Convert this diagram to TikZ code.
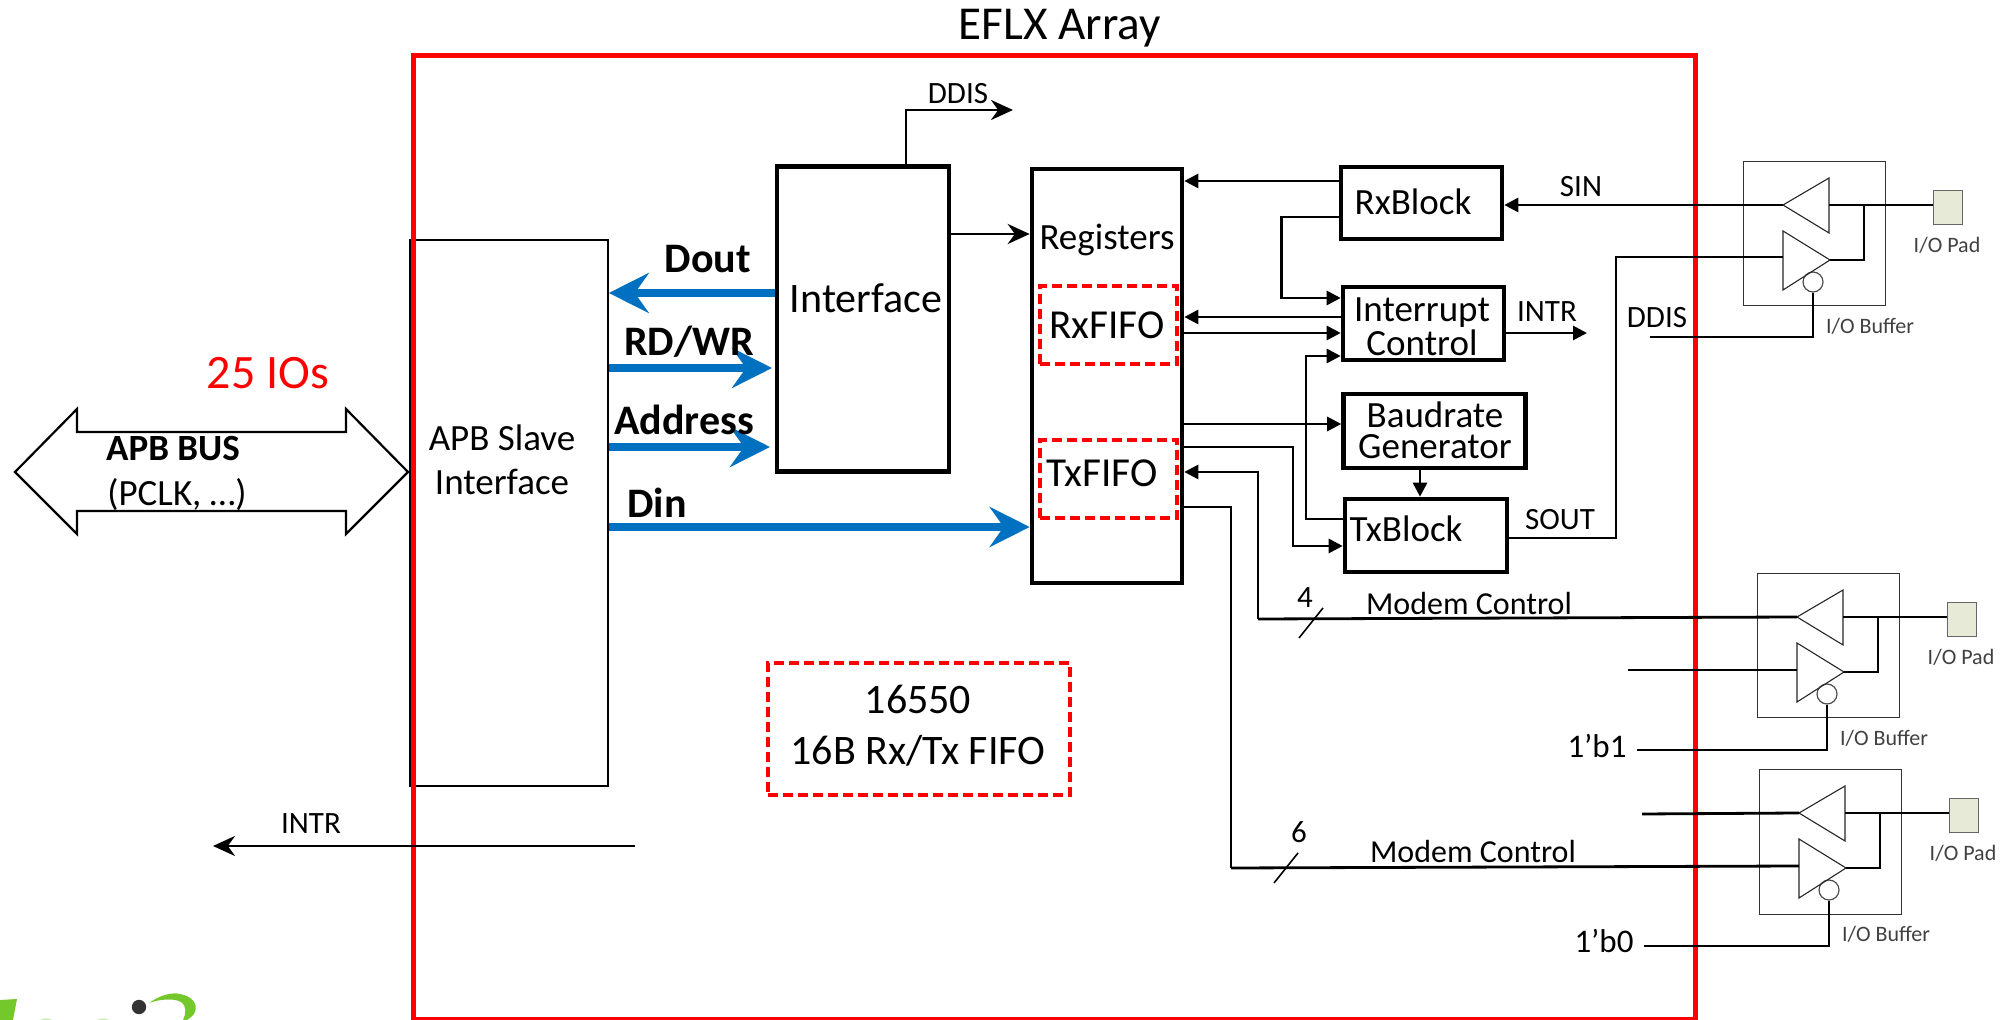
\documentclass[tikz,border=0pt]{standalone}
\usepackage{fontspec}
\setmainfont{Carlito}
\usetikzlibrary{arrows.meta,calc}
\definecolor{armblue}{RGB}{0,112,192}
\definecolor{logogreen}{RGB}{116,200,44}
\definecolor{padfill}{RGB}{232,234,216}
\tikzset{
    iobuf/.pic={
        \node[iobox] (-box) at (71,72) {};
        \node[pad] (-pad) at (205,46) {};
        \node[iotext] at (204,83) {I/O Pad};
        \node[iotext] at (127,164) {I/O Buffer};
        \coordinate (-rx) at (40,43);
        \coordinate (-tx) at (40,98);
        \coordinate (-txout) at (87,98);
        \coordinate (-rxout) at (86,43);
        \node[bubble] (-en) at (70,120) {};
        \draw[tri] (40,43) -- (86,16) -- (86,71) -- cycle;
        \draw[tri] (40,69) -- (87,98) -- (40,128) -- cycle;
        \draw[wire] (-rxout) -- (-pad.west |- -rxout);
        \draw[wire] (-txout) -| (121,43);
    }
}
\begin{document}
\begin{tikzpicture}[
        x=0.5pt, y=-0.5pt,
        redframe/.style={draw=red, line width=2.5pt},
        block/.style={rectangle, draw, line width=2.3pt, inner sep=0pt},
        thinblock/.style={rectangle, draw, line width=0.8pt, inner sep=0pt},
        fifo/.style={rectangle, draw=red, dashed, line width=1.7pt, inner sep=0pt, dash pattern=on 5pt off 2.5pt},
        iobox/.style={rectangle, draw=black!80, line width=0.5pt, minimum width=71pt, minimum height=72pt, inner sep=0pt},
        pad/.style={rectangle, draw=black!60, fill=padfill, line width=0.5pt, minimum width=14.5pt, minimum height=17pt, inner sep=0pt},
        bubble/.style={circle, draw=black!70, fill=white, line width=0.6pt, minimum size=10pt, inner sep=0pt},
        tri/.style={draw=black!85, line width=0.55pt, line join=miter},
        wire/.style={draw, line width=0.8pt, line join=miter},
        sig/.style={draw, line width=1.4pt},
        arrow/.style={sig, -{Triangle[length=7pt,width=7pt]}},
        stealthy/.style={sig, -{Stealth[length=11pt,width=10pt]}},
        bus/.style={draw=armblue, line width=4pt, -{Stealth[length=20pt,width=20pt,inset=7pt]}},
        iotext/.style={font=\fontsize{11}{11}\selectfont, text=black!75},
        lbl/.style={font=\fontsize{15.5}{15.5}\selectfont},
        mid/.style={font=\fontsize{16}{17}\selectfont},
        big/.style={font=\fontsize{18.5}{20}\selectfont, align=center},
        huge/.style={font=\fontsize{21}{21}\selectfont},
        boldlbl/.style={font=\fontsize{21}{21}\selectfont\bfseries}
    ]
    \useasboundingbox (0,0) rectangle (2003,1020);

    % APB side
    \node[font=\fontsize{24}{24}\selectfont, text=red] (ios) at (268,373) {25 IOs};
    \draw[line width=1.1pt, line join=miter, fill=white] (15,472) -- (77,409) -- (77,432) -- (346,432) -- (346,409) -- (408,472) -- (346,534) -- (346,511) -- (77,511) -- (77,534) -- cycle;
    \node[big, font=\fontsize{18.5}{20}\selectfont\bfseries] (apbbus) at (173,449) {APB BUS};
    \node[big] (pclk) at (177,495) {(PCLK, …)};
    \node[thinblock, minimum width=99pt, minimum height=273pt] (apb) at (509,513) {};
    \node[big] (apbtext) at (502,438) {APB Slave};
    \node[big] (apbtext2) at (502,482) {Interface};

    % Array outline
    \node[font=\fontsize{23.6}{24}\selectfont] (title) at (1060,28) {EFLX Array};
    \draw[redframe] (413.5,56) rectangle (1695,1019);

    % Main blocks
    \node[block, minimum width=86pt, minimum height=152.5pt] (iface) at (863,319) {};
    \node[huge] (ifacetext) at (866,298) {Interface};
    \node[block, minimum width=75pt, minimum height=207pt] (reg) at (1107,376) {};
    \node[font=\fontsize{18.5}{18}\selectfont] (regtext) at (1107,240) {Registers};
    \node[fifo, minimum width=68.5pt, minimum height=39pt] (rxfifo) at (1108.5,325) {};
    \node[font=\fontsize{20.6}{21}\selectfont] (rxtext) at (1107,325) {RxFIFO};
    \node[fifo, minimum width=68.5pt, minimum height=39pt] (txfifo) at (1108.5,479) {};
    \node[font=\fontsize{20.6}{21}\selectfont] (txtext) at (1102,473) {TxFIFO};
    \node[block, minimum width=80.5pt, minimum height=36pt] (rxblock) at (1421.5,203) {};
    \node[big] (rxblocktext) at (1413,202) {RxBlock};
    \node[block, minimum width=80.5pt, minimum height=36.5pt] (intr) at (1423.5,323.5) {};
    \node[big, font=\fontsize{18.5}{15}\selectfont, inner ysep=0pt] (intrtext) at (1422,327) {Interrupt\\Control};
    \node[block, minimum width=91pt, minimum height=37pt] (baud) at (1434.5,431) {};
    \node[big, font=\fontsize{18.5}{15.5}\selectfont, inner ysep=0pt] (baudtext) at (1435,430) {Baudrate\\Generator};
    \node[block, minimum width=81pt, minimum height=36.5pt] (txblock) at (1426,535.5) {};
    \node[big] (txblocktext) at (1406,529) {TxBlock};

    % FIFO note
    \node[fifo, minimum width=151pt, minimum height=66pt] (note) at (919,729) {};
    \node[huge, align=center, font=\fontsize{21}{25.5}\selectfont] (notetext) at (918,726) {16550\\16B Rx/Tx FIFO};

    % Data buses
    \draw[bus] (iface.west |- 0,293) -- (apb.east |- 0,293);
    \draw[bus] (apb.east |- 0,368) -- (772,368);
    \draw[bus] (apb.east |- 0,447) -- (770,447);
    \draw[bus] (apb.east |- 0,527) -- (reg.west |- 0,527);
    \node[boldlbl] (dout) at (708,259) {Dout};
    \node[boldlbl] (rdwr) at (689,342) {RD/WR};
    \node[boldlbl] (addr) at (684,420) {Address};
    \node[boldlbl] (din) at (657,503) {Din};

    % Interface outputs
    \coordinate (ddisend) at (1013,110);
    \draw[stealthy] (iface.north -| 906,0) |- (ddisend);
    \node[lbl] (ddistop) at (958,94) {DDIS};
    \draw[stealthy] (iface.east |- 0,234) -- (reg.west |- 0,234);
    \coordinate (intrleft) at (213,846);
    \coordinate (intrstart) at (635,846);
    \draw[stealthy] (intrstart) -- (intrleft);
    \node[lbl] (intrlbl) at (311,824) {INTR};

    % Control connections
    \draw[arrow] (rxblock.west |- 0,181) -- (reg.east |- 0,181);
    \draw[arrow] (rxblock.west |- 0,217) -| (1281.5,298) -- (intr.west |- 0,298);
    \draw[arrow] (intr.west |- 0,317) -- (reg.east |- 0,317);
    \draw[arrow] (reg.east |- 0,333) -- (intr.west |- 0,333);
    \coordinate (introut) at (1587,333);
    \draw[arrow] (intr.east |- introut) -- (introut);
    \node[lbl] (intrtag) at (1547,312) {INTR};
    \draw[arrow] (txblock.west |- 0,519) -| (1306,356) -- (intr.west |- 0,356);
    \draw[arrow] (reg.east |- 0,424) -- (baud.west |- 0,424);
    \draw[arrow] (reg.east |- 0,447) -| (1293,546) -- (txblock.west |- 0,546);
    \draw[arrow] (baud.south -| 1420,0) -- (txblock.north -| 1420,0);

    % I/O buffers
    \pic (buf1) at (1743,162) {iobuf};
    \pic (buf2) at (1757,574) {iobuf};
    \pic (buf3) at (1759,770) {iobuf};

    % Buffer 1
    \draw[arrow] (buf1-rx) -- (rxblock.east |- buf1-rx);
    \node[lbl] (sin) at (1581,187) {SIN};
    \draw[sig] (txblock.east |- 0,538) -| (1616,257) -- (buf1-tx |- 0,257);
    \node[lbl] (sout) at (1560,520) {SOUT};
    \coordinate (ddisin) at (1650,337);
    \draw[sig] (ddisin) -| (buf1-en.south);
    \node[lbl] (ddislow) at (1657,318) {DDIS};

    % Buffer 2
    \coordinate (modem4) at (1258,619);
    \draw[arrow] (modem4) |- (reg.east |- 0,472);
    \draw[sig] (modem4) -- (buf2-rx);
    \node[mid] (modemtext) at (1469,604) {Modem Control};
    \node[lbl] (four) at (1305,598) {4};
    \coordinate (slashfoura) at (1299,638);
    \coordinate (slashfourb) at (1323,608);
    \draw[wire] (slashfoura) -- (slashfourb);
    \coordinate (opentx) at (1628,670);
    \draw[sig] (opentx) -- (buf2-tx |- opentx);
    \coordinate (oneb) at (1637,750);
    \draw[sig] (oneb) -| (buf2-en.south);
    \node[mid, font=\fontsize{16.5}{17}\selectfont] (onebtext) at (1597,746) {1’b1};

    % Buffer 3
    \coordinate (openrx) at (1642,814);
    \draw[sig] (openrx) -- (buf3-rx);
    \coordinate (modem6) at (1231,868);
    \draw[sig] (reg.east |- 0,507) -| (modem6);
    \draw[sig] (modem6) -- (buf3-tx |- 0,866);
    \node[mid] (modemtextb) at (1473,852) {Modem Control};
    \node[lbl] (six) at (1299,832) {6};
    \coordinate (slashsixa) at (1274,883);
    \coordinate (slashsixb) at (1298,853);
    \draw[wire] (slashsixa) -- (slashsixb);
    \coordinate (zerob) at (1644,946);
    \draw[sig] (zerob) -| (buf3-en.south);
    \node[mid, font=\fontsize{16.5}{17}\selectfont] (zerobtext) at (1604,941) {1’b0};

    % Logo
    \fill[logogreen] (0,1000) -- (17,999) -- (13,1020) -- (0,1020) -- cycle;
    \fill[logogreen!40] (40,1020) .. controls (44,1018) and (48,1018) .. (52,1020) -- cycle;
    \fill[logogreen!40] (97,1020) .. controls (101,1018) and (105,1018) .. (109,1020) -- cycle;
    \fill[black!80] (139,1007) circle (3.6pt);
    \fill[logogreen] (149,1003) .. controls (160,995) and (172,992) .. (180,994) .. controls (192,996) and (198,1004) .. (195,1012) .. controls (194,1015) and (190,1018) .. (187,1020) -- (183,1020) .. controls (186,1014) and (187,1006) .. (181,1002) .. controls (174,998) and (160,999) .. (149,1003) -- cycle;
\end{tikzpicture}
\end{document}
